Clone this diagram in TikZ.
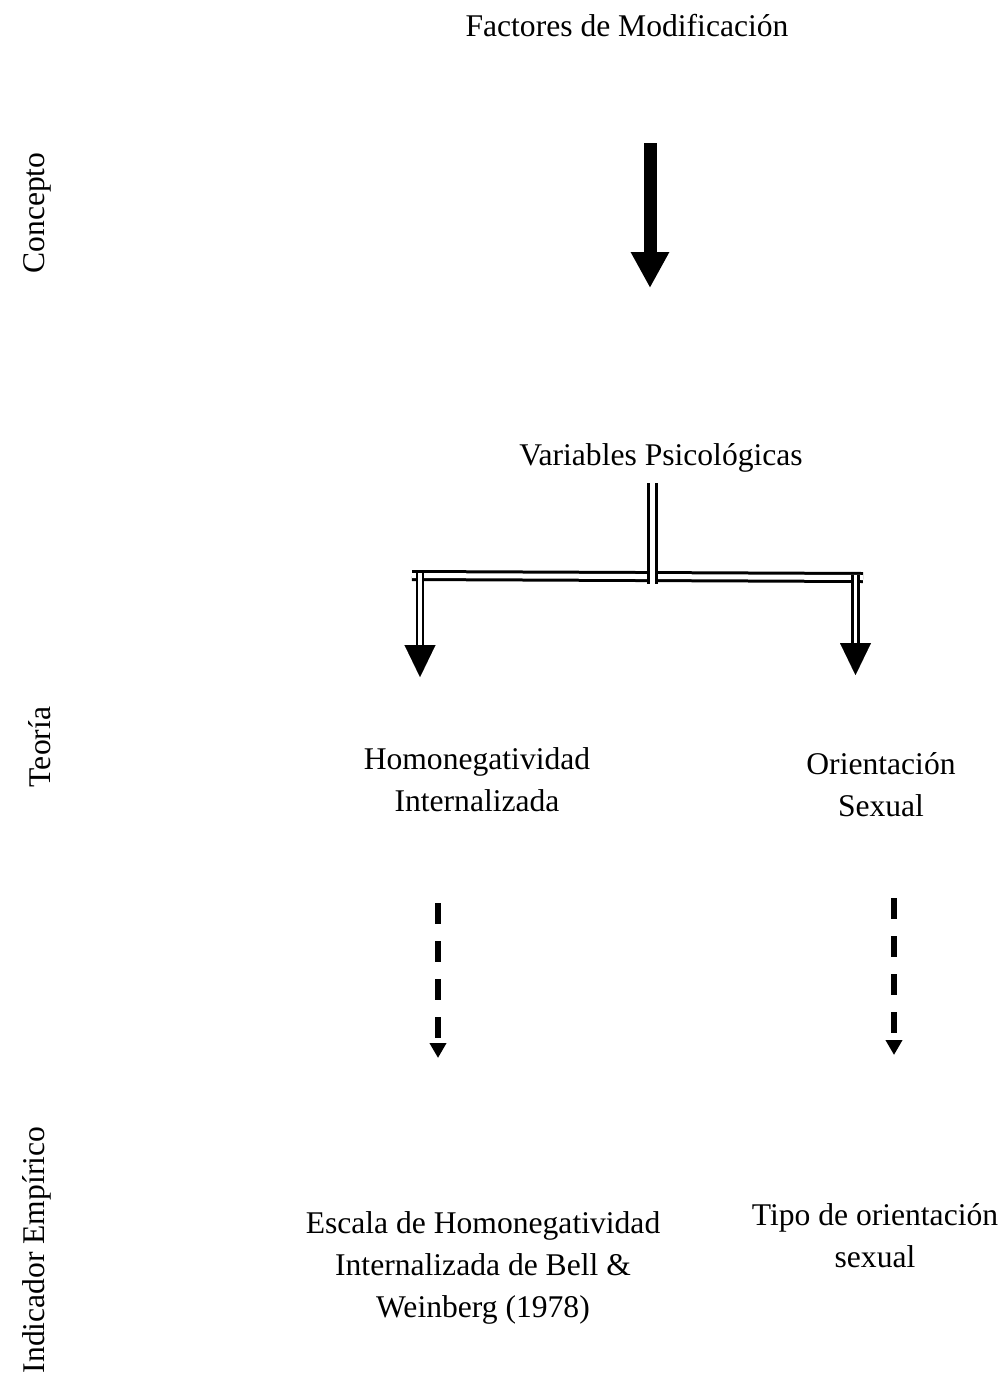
\documentclass[tikz,border=0pt]{standalone}
\usepackage{fontspec}
\setmainfont{Liberation Serif}
\usetikzlibrary{arrows.meta}
\begin{document}
\begin{tikzpicture}[x=1pt,y=-1pt,
  lbl/.style={font=\fontsize{31.6}{42}\selectfont, inner sep=0pt, align=center, anchor=base},
  side/.style={font=\fontsize{31.6}{42}\selectfont, inner sep=0pt, rotate=90, anchor=base},
  bold arrow/.style={line width=13pt, -{Triangle[width=36pt,length=36pt]}},
  dbl/.style={double, double distance=#1, line width=3pt},
  dash arrow/.style={line width=6pt, dash pattern=on 21pt off 17pt, -{Triangle[width=16pt,length=15pt]}},
  headtip/.style={line width=0.01pt, -{Triangle[width=31pt,length=32pt]}}
]
\useasboundingbox (0,0) rectangle (1007,1377);

% side labels
\node[side] (concepto) at (45,213) {Concepto};
\node[side] (teoria) at (50,747) {Teoría};
\node[side] (indicador) at (44,1250) {Indicador Empírico};

% text blocks (base anchor sits on the last line)
\node[lbl] (factores) at (627,36) {Factores de Modificación};
\node[lbl] (variables) at (661,465) {Variables Psicológicas};
\node[lbl] (homo) at (477,811) {Homonegatividad\\Internalizada};
\node[lbl] (orient) at (881,816) {Orientación\\Sexual};
\node[lbl] (escala) at (483,1317) {Escala de Homonegatividad\\Internalizada de Bell \&\\Weinberg (1978)};
\node[lbl] (tipo) at (875,1267) {Tipo de orientación\\sexual};

% anchor points of the connectors
\coordinate (f-out) at (650,143);
\coordinate (v-in) at (650,288);
\coordinate (v-out) at (652,483);
\coordinate (v-bar) at (652,584);
\coordinate (bar-l) at (412,575.5);
\coordinate (bar-r) at (863,577.5);
\coordinate (hl-top) at (420,573);
\coordinate (hl-head) at (420,645);
\coordinate (hl-tip) at (420,677);
\coordinate (or-top) at (855.5,575);
\coordinate (or-head) at (855.5,643);
\coordinate (or-tip) at (855.5,675);
\coordinate (hd-from) at (438,903);
\coordinate (hd-to) at (438,1058);
\coordinate (od-from) at (894,898);
\coordinate (od-to) at (894,1055);

% Factores -> Variables
\draw[bold arrow] (f-out) -- (v-in);

% Variables -> branching bar
\draw[dbl=5pt] (bar-l) -- (bar-r);
\draw[dbl=5pt] (v-out) -- (v-bar);

% branches
\draw[dbl=3.5pt, line width=2.6pt] (hl-top) -- (hl-head);
\draw[headtip] (hl-head) -- (hl-tip);
\draw[dbl=3.5pt, line width=2.6pt] (or-top) -- (or-head);
\draw[headtip] (or-head) -- (or-tip);

% dashed arrows to the indicators
\draw[dash arrow] (hd-from) -- (hd-to);
\draw[dash arrow] (od-from) -- (od-to);
\end{tikzpicture}
\end{document}
